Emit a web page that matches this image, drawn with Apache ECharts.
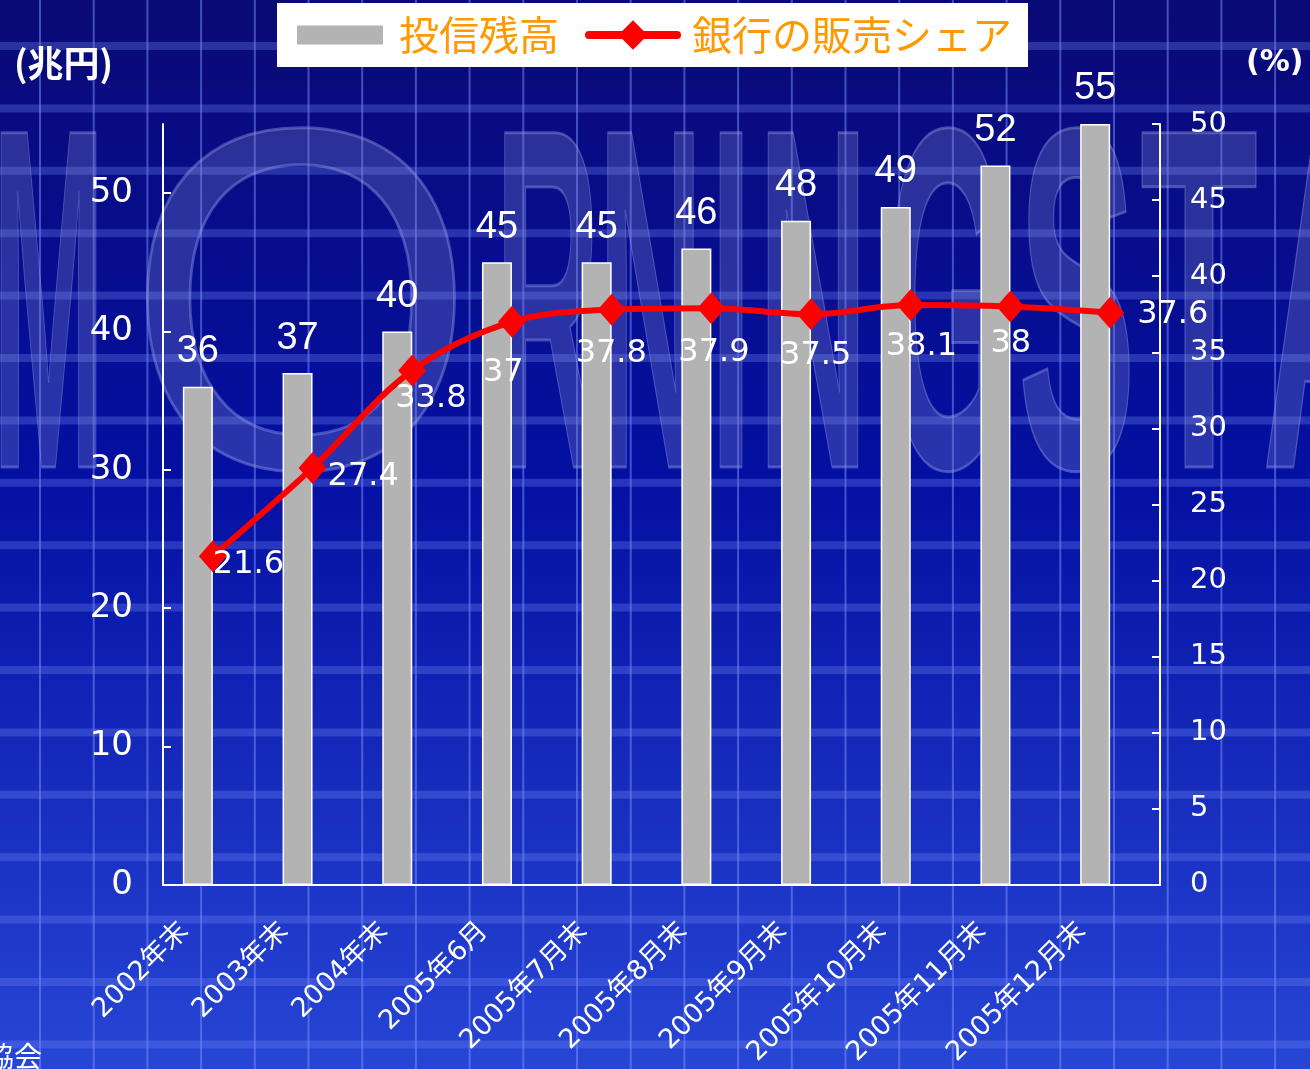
<!DOCTYPE html>
<html><head><meta charset="utf-8">
<script src="https://cdn.jsdelivr.net/npm/echarts@6/dist/echarts.min.js"></script>
<style>html,body{margin:0;padding:0;background:#0a0c80;}#c{width:1310px;height:1069px;}</style>
</head><body><div id="c"></div>
<script>
var categories = ['2002年末','2003年末','2004年末','2005年6月','2005年7月末','2005年8月末','2005年9月末','2005年10月末','2005年11月末','2005年12月末'];
var fundBalance = [36, 37, 40, 45, 45, 46, 48, 49, 52, 55];
var bankShare = [21.6, 27.4, 33.8, 37, 37.8, 37.9, 37.5, 38.1, 38, 37.6];
var leftTicks = [0, 10, 20, 30, 40, 50];
var rightTicks = [0, 5, 10, 15, 20, 25, 30, 35, 40, 45, 50];

// label placement (style only, offsets from each point)
var lineLabelOffsets = [[0,9],[15,9],[-17,28],[-29,51],[-36,44],[-33,45],[-31,41],[-25,42],[-20,37],[27,2]];

var NUM = "'DejaVu Sans', 'Noto Sans CJK JP', sans-serif";
var ARIAL = "'Liberation Sans', 'Noto Sans CJK JP', sans-serif";
var chart = echarts.init(document.getElementById('c'), null, {renderer:'canvas'});

// ---- decorative background ----
var bg = [];
bg.push({type:'rect', z:-30, silent:true, shape:{x:0,y:0,width:1310,height:1069},
  style:{fill:new echarts.graphic.LinearGradient(0,0,0,1,[{offset:0,color:'#0a0a76'},{offset:0.45,color:'#0410a2'},{offset:1,color:'#2746d6'}])}});
for (var x = 40; x < 1310; x += 53.7) {
  bg.push({type:'rect', z:-20, silent:true, shape:{x:x-1, y:0, width:2, height:1069}, style:{fill:'rgba(125,145,255,0.5)'}});
}
for (var y = 46; y < 1069; y += 62.4) {
  bg.push({type:'rect', z:-20, silent:true, shape:{x:0, y:y-4, width:1310, height:8}, style:{fill:'rgba(110,130,240,0.33)'}});
}
// watermark letters
var wmBold = "bold 486px 'Liberation Sans', sans-serif";
var wmReg = "486px 'Liberation Sans', sans-serif";
var cv = document.createElement('canvas').getContext('2d');
var wm = [['M',-8,113,1],['O',126,350,0],['R',495,105,1],['N',598,105,1],['I',710,42,1],['N',758,110,1],['G',885,125,1],['S',1018,118,1],['T',1140,118,1],['A',1262,135,1]];
wm.forEach(function(w){
  var f = w[3] ? wmBold : wmReg;
  cv.font = f;
  var nat = cv.measureText(w[0]).width;
  bg.push({type:'text', z:-15, silent:true, x:w[1], y:333, scaleX:w[2]/nat, scaleY:1,
    style:{text:w[0], font:f, fill:'rgba(125,135,205,0.30)', stroke:'rgba(165,175,245,0.38)', lineWidth:3, align:'left', verticalAlign:'middle'}});
});
bg.push({type:'text', z:10, left:14, top:45, style:{text:'(兆円)', font:"bold 36px 'Noto Sans CJK JP', sans-serif", fill:'#fff'}});
bg.push({type:'text', z:10, left:1246, top:48, style:{text:'(%)', font:"bold 30px 'DejaVu Sans', sans-serif", fill:'#fff'}});
bg.push({type:'text', z:10, x:42, y:1042, style:{text:'出所：投資信託協会', font:"28px 'Noto Sans CJK JP', sans-serif", fill:'#fff', align:'right'}});

var lineData = bankShare.map(function(v, i){
  return {value:v, label:{offset:lineLabelOffsets[i]}};
});

var option = {
  animation:false,
  backgroundColor:'#0a0c80',
  graphic: bg,
  legend: {
    left: 277, top: 3, backgroundColor:'#fff', borderRadius:0,
    padding:[12, 16, 12, 18], itemWidth: 88, itemHeight: 37, itemGap: 26,
    textStyle:{color:'#ff9900', fontSize:40, fontFamily:"'Noto Sans CJK JP', sans-serif", padding:[0,0,0,10]},
    data:[
      {name:'投信残高', icon:'path://M0,0L1,0Z M0,8L88,8L88,29L0,29Z M0,37L1,37Z'},
      {name:'銀行の販売シェア', lineStyle:{width:8, cap:'round', color:'#ff0000'}}
    ]
  },
  grid:{left:163, right:150, top:124, bottom:184, containLabel:false},
  xAxis:{
    type:'category', data:categories,
    axisLine:{lineStyle:{color:'#fff', width:2}},
    axisTick:{inside:true, length:6, lineStyle:{color:'#fff', width:2}},
    axisLabel:{rotate:45, color:'#fff', fontSize:27, fontFamily:NUM, margin:14, padding:[0,40,0,0], interval:0}
  },
  yAxis:[{
    type:'value', min:0, max:55, interval:10,
    axisLine:{show:true, lineStyle:{color:'#fff', width:2}},
    axisTick:{show:true, inside:true, length:8, lineStyle:{color:'#fff', width:2}},
    axisLabel:{color:'#fff', fontSize:34, fontFamily:NUM, margin:30, showMaxLabel:false,
      formatter:function(v){ return leftTicks.indexOf(v) >= 0 ? String(v) : ''; }},
    splitLine:{show:false}
  },{
    type:'value', min:0, max:50, interval:5, position:'right',
    axisLine:{show:true, lineStyle:{color:'#fff', width:2}},
    axisTick:{show:true, inside:true, length:8, lineStyle:{color:'#fff', width:2}},
    axisLabel:{color:'#fff', fontSize:29, fontFamily:NUM, margin:30,
      formatter:function(v){ return rightTicks.indexOf(v) >= 0 ? String(v) : ''; }},
    splitLine:{show:false}
  }],
  series:[{
    name:'投信残高', type:'bar', yAxisIndex:0, data:fundBalance, barWidth:30, barGap:'0%',
    itemStyle:{color:'#b3b3b3', borderColor:'#ffffff', borderWidth:1.5},
    label:{show:true, position:'top', distance:16, color:'#fff', fontSize:38, fontFamily:ARIAL}
  },{
    name:'_spacer', type:'bar', yAxisIndex:0, data:categories.map(function(){return null;}), barWidth:30,
    itemStyle:{color:'transparent'}
  },{
    name:'銀行の販売シェア', type:'line', yAxisIndex:1, data:lineData, smooth:0.35,
    symbol:'diamond', symbolSize:[28,32],
    lineStyle:{color:'#ff0000', width:6}, itemStyle:{color:'#ff0000'},
    label:{show:true, position:'inside', align:'left', verticalAlign:'middle', color:'#fff', fontSize:32, fontFamily:NUM},
    z:5
  }]
};
chart.setOption(option);
</script></body></html>
